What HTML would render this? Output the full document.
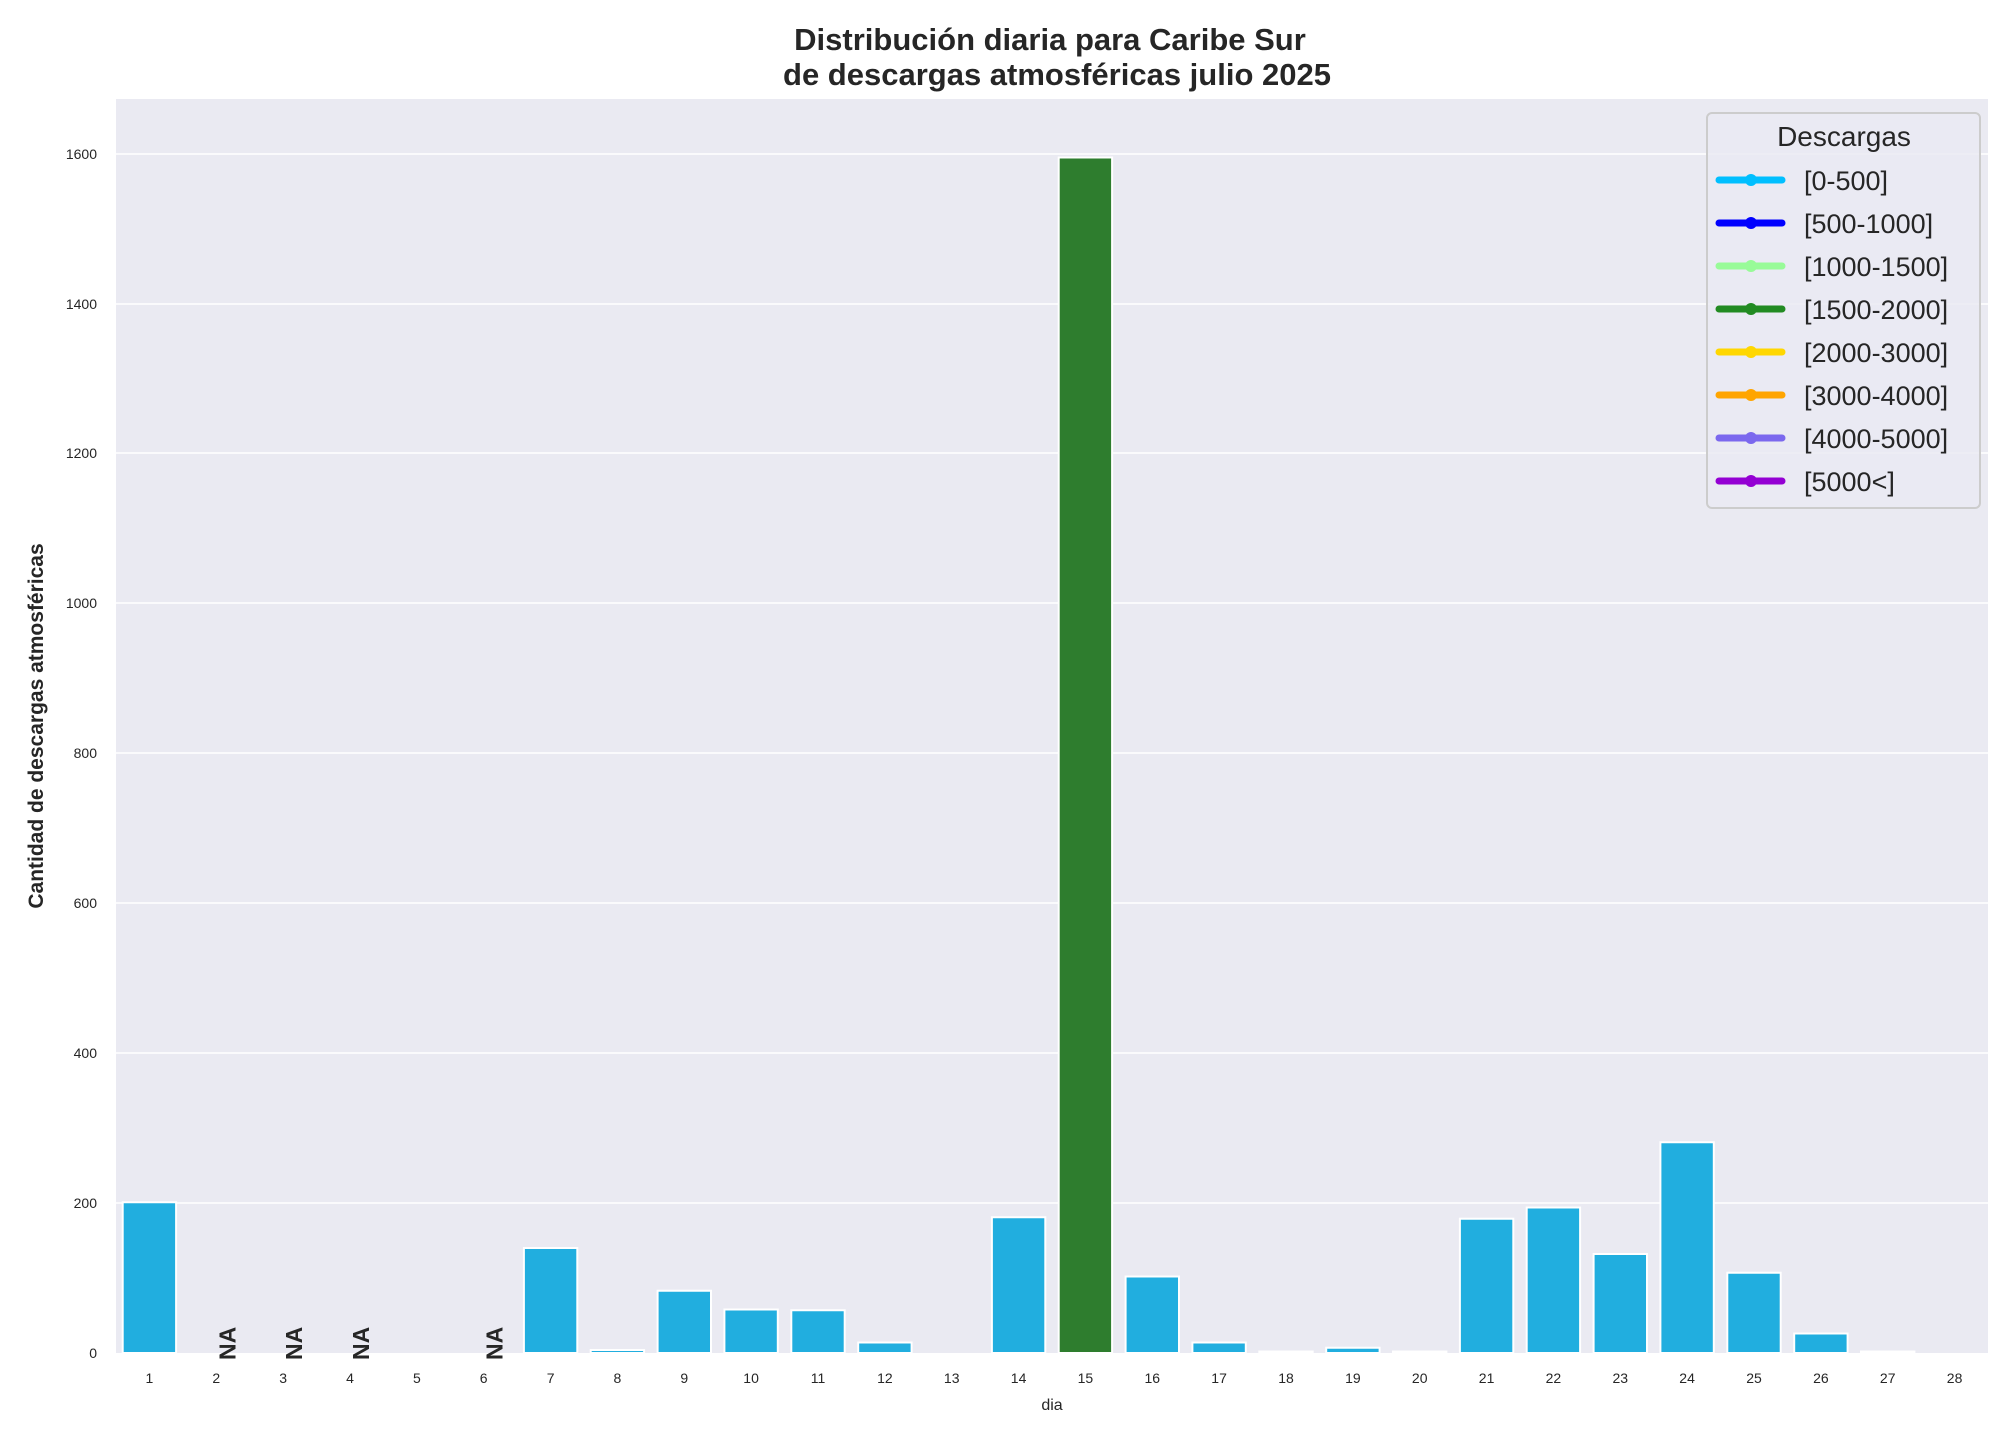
<!DOCTYPE html>
<html><head><meta charset="utf-8"><style>
html,body{margin:0;padding:0;background:#fff;}
svg{display:block;font-family:"Liberation Sans",Arial,sans-serif;}
</style></head><body>
<svg width="2016" height="1440" viewBox="0 0 2016 1440" xmlns="http://www.w3.org/2000/svg">
<rect width="2016" height="1440" fill="#fff"/>
<text x="1050" y="50" text-anchor="middle" font-size="31" font-weight="bold" fill="#262626">Distribución diaria para Caribe Sur </text>
<text x="1057" y="85" text-anchor="middle" font-size="31" font-weight="bold" fill="#262626">de descargas atmosféricas julio 2025</text>
<rect x="116" y="99" width="1872" height="1254" fill="#eaeaf2"/>
<g stroke="#fff" stroke-width="1.6">
<line x1="116" x2="1988" y1="1203" y2="1203"/>
<line x1="116" x2="1988" y1="1053" y2="1053"/>
<line x1="116" x2="1988" y1="903" y2="903"/>
<line x1="116" x2="1988" y1="753" y2="753"/>
<line x1="116" x2="1988" y1="603" y2="603"/>
<line x1="116" x2="1988" y1="453" y2="453"/>
<line x1="116" x2="1988" y1="304" y2="304"/>
<line x1="116" x2="1988" y1="154" y2="154"/>
</g>
<g font-size="14" fill="#262626" text-anchor="end">
<text x="97" y="1358">0</text><text x="97" y="1208">200</text><text x="97" y="1058">400</text>
<text x="97" y="908">600</text><text x="97" y="758">800</text><text x="97" y="608">1000</text>
<text x="97" y="458">1200</text><text x="97" y="309">1400</text><text x="97" y="159">1600</text>
</g>
<g stroke="#fff" stroke-width="2" fill="#21aedf">
<rect x="122.7" y="1202.25" width="53.4" height="150.75"/>
<rect x="523.9" y="1248" width="53.4" height="105"/>
<rect x="590.7" y="1350" width="53.4" height="3"/>
<rect x="657.6" y="1290.75" width="53.4" height="62.25"/>
<rect x="724.4" y="1309.5" width="53.4" height="43.5"/>
<rect x="791.3" y="1310.25" width="53.4" height="42.75"/>
<rect x="858.2" y="1342.5" width="53.4" height="10.5"/>
<rect x="991.9" y="1217.25" width="53.4" height="135.75"/>
<rect x="1058.7" y="157.5" width="53.4" height="1195.5" fill="#2e7d2e"/>
<rect x="1125.6" y="1276.5" width="53.4" height="76.5"/>
<rect x="1192.4" y="1342.5" width="53.4" height="10.5"/>
<rect x="1259.3" y="1351.5" width="53.4" height="1.5"/>
<rect x="1326.2" y="1347.75" width="53.4" height="5.25"/>
<rect x="1393.0" y="1351.5" width="53.4" height="1.5"/>
<rect x="1459.9" y="1218.75" width="53.4" height="134.25"/>
<rect x="1526.7" y="1207.5" width="53.4" height="145.5"/>
<rect x="1593.6" y="1254" width="53.4" height="99"/>
<rect x="1660.4" y="1142.25" width="53.4" height="210.75"/>
<rect x="1727.3" y="1272.75" width="53.4" height="80.25"/>
<rect x="1794.2" y="1333.5" width="53.4" height="19.5"/>
<rect x="1861.0" y="1351.5" width="53.4" height="1.5"/>
</g>
<g font-size="14" fill="#262626" text-anchor="middle">
<text x="149.4" y="1383">1</text><text x="216.3" y="1383">2</text><text x="283.1" y="1383">3</text><text x="350.0" y="1383">4</text>
<text x="416.9" y="1383">5</text><text x="483.7" y="1383">6</text><text x="550.6" y="1383">7</text><text x="617.4" y="1383">8</text>
<text x="684.3" y="1383">9</text><text x="751.1" y="1383">10</text><text x="818.0" y="1383">11</text><text x="884.9" y="1383">12</text>
<text x="951.7" y="1383">13</text><text x="1018.6" y="1383">14</text><text x="1085.4" y="1383">15</text><text x="1152.3" y="1383">16</text>
<text x="1219.1" y="1383">17</text><text x="1286.0" y="1383">18</text><text x="1352.9" y="1383">19</text><text x="1419.7" y="1383">20</text>
<text x="1486.6" y="1383">21</text><text x="1553.4" y="1383">22</text><text x="1620.3" y="1383">23</text><text x="1687.1" y="1383">24</text>
<text x="1754.0" y="1383">25</text><text x="1820.9" y="1383">26</text><text x="1887.7" y="1383">27</text><text x="1954.6" y="1383">28</text>
</g>
<g font-size="23" font-weight="bold" fill="#262626">
<text transform="translate(235.3,1360) rotate(-90)">NA</text>
<text transform="translate(302.1,1360) rotate(-90)">NA</text>
<text transform="translate(369.0,1360) rotate(-90)">NA</text>
<text transform="translate(502.7,1360) rotate(-90)">NA</text>
</g>
<text x="1052" y="1410" text-anchor="middle" font-size="16" fill="#262626">dia</text>
<text transform="translate(43,726) rotate(-90)" text-anchor="middle" font-size="21" font-weight="bold" fill="#262626">Cantidad de descargas atmosféricas</text>
<rect x="1707" y="113" width="273" height="395" rx="5" fill="#eaeaf2" fill-opacity="0.8" stroke="#cccccc" stroke-width="2"/>
<text x="1844" y="146" text-anchor="middle" font-size="28" fill="#262626">Descargas</text>
<g stroke-width="7" stroke-linecap="round">
<line x1="1719" x2="1782" y1="180" y2="180" stroke="#00bfff"/>
<line x1="1719" x2="1782" y1="223" y2="223" stroke="#0000ff"/>
<line x1="1719" x2="1782" y1="266" y2="266" stroke="#98fb98"/>
<line x1="1719" x2="1782" y1="309" y2="309" stroke="#228b22"/>
<line x1="1719" x2="1782" y1="352" y2="352" stroke="#ffd700"/>
<line x1="1719" x2="1782" y1="395" y2="395" stroke="#ffa500"/>
<line x1="1719" x2="1782" y1="438" y2="438" stroke="#7b68ee"/>
<line x1="1719" x2="1782" y1="481" y2="481" stroke="#9400d3"/>
</g>
<circle cx="1751" cy="180" r="6" fill="#00bfff"/>
<circle cx="1751" cy="223" r="6" fill="#0000ff"/>
<circle cx="1751" cy="266" r="6" fill="#98fb98"/>
<circle cx="1751" cy="309" r="6" fill="#228b22"/>
<circle cx="1751" cy="352" r="6" fill="#ffd700"/>
<circle cx="1751" cy="395" r="6" fill="#ffa500"/>
<circle cx="1751" cy="438" r="6" fill="#7b68ee"/>
<circle cx="1751" cy="481" r="6" fill="#9400d3"/>
<g font-size="27" fill="#262626">
<text x="1804" y="190">[0-500]</text>
<text x="1804" y="233">[500-1000]</text>
<text x="1804" y="276">[1000-1500]</text>
<text x="1804" y="319">[1500-2000]</text>
<text x="1804" y="362">[2000-3000]</text>
<text x="1804" y="405">[3000-4000]</text>
<text x="1804" y="448">[4000-5000]</text>
<text x="1804" y="491">[5000&lt;]</text>
</g>
</svg>
</body></html>
